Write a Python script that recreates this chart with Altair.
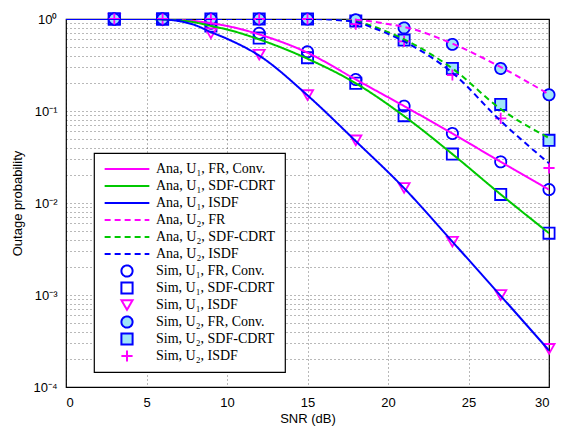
import altair as alt
import pandas as pd

# ---------------- data ----------------
labels = [
    "Ana, U\u2081, FR, Conv.", "Ana, U\u2081, SDF-CDRT", "Ana, U\u2081, ISDF",
    "Ana, U\u2082, FR", "Ana, U\u2082, SDF-CDRT", "Ana, U\u2082, ISDF",
    "Sim, U\u2081, FR, Conv.", "Sim, U\u2081, SDF-CDRT", "Sim, U\u2081, ISDF",
    "Sim, U\u2082, FR, Conv.", "Sim, U\u2082, SDF-CDRT", "Sim, U\u2082, ISDF",
]

snr_ana_u1 = [0, 3, 5, 6, 7, 8, 9, 10, 12, 15, 18, 21, 24, 27, 30]
ana_u1_fr = [1, 1, 1, 0.995, 0.98, 0.95, 0.90, 0.84, 0.68, 0.43, 0.22, 0.113, 0.057, 0.028, 0.014]
ana_u1_sdf = [1, 1, 1, 0.99, 0.97, 0.92, 0.84, 0.77, 0.60, 0.37, 0.20, 0.088, 0.034, 0.0124, 0.0047]
ana_u1_isdf = [1, 1, 1, 0.99, 0.95, 0.86, 0.72, 0.61, 0.40, 0.148, 0.047, 0.0145, 0.0038, 0.00098, 0.00025]

snr_ana_u2 = [0, 3, 6, 9, 12, 15, 16, 17, 18, 19, 20, 21, 24, 27, 30]
ana_u2_fr = [1, 1, 1, 1, 1, 1, 1, 0.995, 0.98, 0.94, 0.88, 0.82, 0.54, 0.30, 0.152]
ana_u2_sdf = [1, 1, 1, 1, 1, 1, 1, 0.98, 0.94, 0.84, 0.72, 0.60, 0.29, 0.105, 0.051]
ana_u2_isdf = [1, 1, 1, 1, 1, 1, 0.995, 0.97, 0.93, 0.81, 0.69, 0.57, 0.26, 0.078, 0.027]

snr_sim = [3, 6, 9, 12, 15, 18, 21, 24, 27, 30]
sim_u1_fr = [1, 1, 0.90, 0.70, 0.44, 0.22, 0.113, 0.057, 0.028, 0.014]
sim_u1_sdf = [1, 1, 0.84, 0.62, 0.38, 0.20, 0.089, 0.034, 0.0124, 0.0047]
sim_u1_isdf = [1, 0.97, 0.70, 0.41, 0.149, 0.048, 0.0146, 0.0038, 0.001, 0.00026]
sim_u2_fr = [1, 1, 1, 1, 1, 0.98, 0.80, 0.53, 0.29, 0.15]
sim_u2_sdf = [1, 1, 1, 1, 1, 0.95, 0.59, 0.29, 0.118, 0.048]
sim_u2_isdf = [1, 1, 1, 1, 1, 0.88, 0.57, 0.246, 0.083, 0.024]

x_ticks = [0, 5, 10, 15, 20, 25, 30]
y_decades = [1e-4, 1e-3, 1e-2, 1e-1, 1]

# ---------------- styling ----------------
MAG, GRN, BLU, LB = "#ff00ff", "#00c800", "#0000ff", "#a0e6f8"
colors = [MAG, GRN, BLU, MAG, GRN, BLU, BLU, BLU, MAG, BLU, BLU, MAG]
dashes = [[1, 0]] * 3 + [[6, 4]] * 3 + [[1, 0]] * 6
LINE = "M-4,0H4"
PLUS = "M-1,0H1M0,-1V1"
shapes = [LINE] * 6 + ["circle", "square", "triangle-down", "circle", "square", PLUS]
fills = ["transparent"] * 9 + [LB, LB, "transparent"]
sizes = [125] * 6 + [100, 72, 90, 100, 72, 130]

# ---------------- tables ----------------
rows = []
for lab, xs, ys in [
    (labels[0], snr_ana_u1, ana_u1_fr), (labels[1], snr_ana_u1, ana_u1_sdf),
    (labels[2], snr_ana_u1, ana_u1_isdf), (labels[3], snr_ana_u2, ana_u2_fr),
    (labels[4], snr_ana_u2, ana_u2_sdf), (labels[5], snr_ana_u2, ana_u2_isdf),
]:
    rows += [{"snr": a, "p": b, "series": lab} for a, b in zip(xs, ys)]
lines_df = pd.DataFrame(rows)

# drawing order of the simulation markers (later ones on top)
prow = []
for lab, ys in [(labels[6], sim_u1_fr), (labels[7], sim_u1_sdf), (labels[8], sim_u1_isdf),
                (labels[10], sim_u2_sdf), (labels[9], sim_u2_fr), (labels[11], sim_u2_isdf)]:
    prow += [{"snr": a, "p": b, "series": lab} for a, b in zip(snr_sim, ys)]
pts_df = pd.DataFrame(prow)

y_grid = [k * 10 ** e for e in range(-4, 0) for k in range(1, 10)] + [1]

x_enc = alt.X("snr:Q", scale=alt.Scale(domain=[0, 30], nice=False, zero=False),
              axis=alt.Axis(values=x_ticks, title="SNR (dB)", format="d"))
y_enc = alt.Y("p:Q", scale=alt.Scale(type="log", domain=[1e-4, 1], nice=False),
              axis=alt.Axis(values=y_grid, title="Outage probability", labelOverlap=False,
                            labelExpr="datum.value == 1 ? '10\u2070' : datum.value == 0.1 ? '10\u207b\u00b9' : datum.value == 0.01 ? '10\u207b\u00b2' : datum.value == 0.001 ? '10\u207b\u00b3' : datum.value == 0.0001 ? '10\u207b\u2074' : ''"))

leg = alt.Legend(title=None, orient="none", legendX=28, legendY=134)

lines = alt.Chart(lines_df).mark_line(strokeWidth=2, interpolate="monotone", clip=True).encode(
    x=x_enc, y=y_enc,
    color=alt.Color("series:N", scale=alt.Scale(domain=labels, range=colors), legend=None),
    strokeDash=alt.StrokeDash("series:N", scale=alt.Scale(domain=labels, range=dashes), legend=None),
)

points = alt.Chart(pts_df).mark_point(filled=False, strokeWidth=1.8, opacity=1).encode(
    x=x_enc, y=y_enc,
    color=alt.Color("series:N", scale=alt.Scale(domain=labels, range=colors), legend=leg),
    strokeDash=alt.StrokeDash("series:N", scale=alt.Scale(domain=labels, range=dashes), legend=leg),
    shape=alt.Shape("series:N", scale=alt.Scale(domain=labels, range=shapes), legend=leg),
    fill=alt.Fill("series:N", scale=alt.Scale(domain=labels, range=fills), legend=leg),
    size=alt.Size("series:N", scale=alt.Scale(domain=labels, range=sizes), legend=leg),
)

chart = alt.layer(points, lines).resolve_scale(
    color="independent", strokeDash="independent", shape="independent",
    fill="independent", size="independent",
).resolve_legend(
    color="independent", strokeDash="independent", shape="independent",
    fill="independent", size="independent",
).properties(
    width=483, height=368,
    autosize=alt.AutoSizeParams(type="none"),
    padding={"left": 66, "top": 19, "right": 15, "bottom": 41},
).configure_view(
    stroke="black", strokeWidth=1.2
).configure_axis(
    domain=False, ticks=False,
    grid=True, gridColor="#000000", gridDash=[1, 3], gridOpacity=0.55, gridWidth=1,
    labelFont="Liberation Sans", labelFontSize=13, labelColor="black",
    titleFont="Liberation Sans", titleFontSize=13, titleFontWeight="normal", titleColor="black",
).configure_axisX(
    labelPadding=9, titlePadding=3,
).configure_axisY(
    labelPadding=9, titlePadding=8,
).configure_legend(
    strokeColor="black", fillColor="white", padding=9, cornerRadius=0, strokeWidth=1.2,
    labelFont="Liberation Serif", labelFontSize=14, labelColor="black",
    rowPadding=3.0, clipHeight=14, symbolStrokeWidth=2, labelOffset=22, symbolOffset=17,
)

chart.save("out.html", embed_options={"renderer": "svg", "actions": False})
